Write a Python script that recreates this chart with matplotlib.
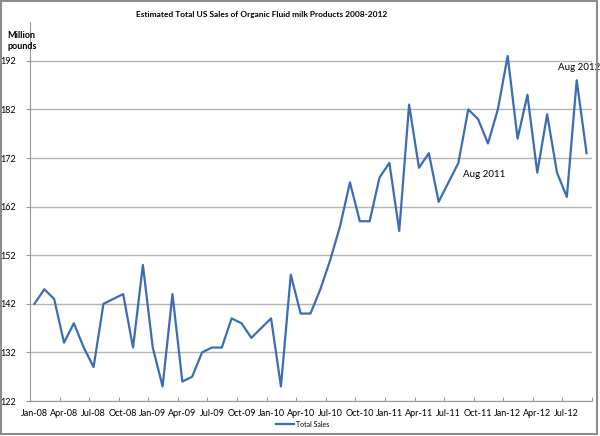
import numpy as np
import matplotlib.pyplot as plt
from matplotlib.patches import Rectangle

plt.rcParams['font.family'] = ['Lato', 'DejaVu Sans']

# monthly sales, Jan-08 .. Sep-12 (million pounds)
sales = [142, 145, 143, 134, 138, 133, 129, 142, 143, 144, 133, 150,
         133, 125, 144, 126, 127, 132, 133, 133, 139, 138, 135, 137,
         139, 125, 148, 140, 140, 145, 151, 158, 167, 159, 159, 168,
         171, 157, 183, 170, 173, 163, 167, 171, 182, 180, 175, 182,
         193, 176, 185, 169, 181, 169, 164, 188, 173]
months = ['Jan', 'Feb', 'Mar', 'Apr', 'May', 'Jun',
          'Jul', 'Aug', 'Sep', 'Oct', 'Nov', 'Dec']
years = ['08', '09', '10', '11', '12']
month_labels = [m + '-' + y for y in years for m in months][:len(sales)]
yticks = [122, 132, 142, 152, 162, 172, 182, 192]

x = np.arange(len(sales))

fig = plt.figure(figsize=(6, 4.36), dpi=100)
ax = fig.add_axes([30/600, 35/436, 562/600, 379/436])

ax.plot(x, sales, color='#3a6db5', linewidth=1.6, label='Total Sales')

ax.set_xlim(-0.45, len(sales) - 0.45)
ax.set_ylim(122, 200)
ax.set_yticks(yticks)
ax.yaxis.grid(True, color='#b4b4b4', linewidth=1.0)
ax.set_axisbelow(True)

ax.set_xticks(np.arange(-0.45, len(sales), 3))
ax.set_xticklabels([])
ax.set_xticks(x[::3], minor=True)
ax.set_xticklabels(month_labels[::3], minor=True)
ax.tick_params(axis='x', which='minor', length=0, pad=6, labelsize=6.5)
ax.tick_params(axis='x', which='major', length=3, direction='in', color='#999999')
ax.tick_params(axis='y', length=3, color='#999999', labelsize=6.5, pad=7)

for s in ['top', 'right']:
    ax.spines[s].set_visible(False)
ax.spines['left'].set_color('#999999')
ax.spines['bottom'].set_color('#999999')

ax.annotate('Aug 2011', (x[43], sales[43]), xytext=(3, -8),
            textcoords='offset points', fontsize=7, va='center', ha='left')
ax.annotate('Aug 2012', (x[55], sales[55]), xytext=(2, 9),
            textcoords='offset points', fontsize=7, va='center', ha='center',
            annotation_clip=False)

title = fig.text(262/600, 1 - 15/436,
                 'Estimated Total US Sales of Organic Fluid milk Products 2008-2012',
                 ha='center', va='center', fontsize=7.5, fontweight='bold')
# shrink the title to the width it has in the original (about 250 px)
r = fig.canvas.get_renderer()
w = title.get_window_extent(renderer=r).width
title.set_fontsize(7.5 * 250 / w)

fig.text(7/600, 1 - 41/436, 'Million\npounds', ha='left', va='center',
         fontsize=6.5, fontweight='bold', linespacing=1.4)

fig.legend(loc='center', bbox_to_anchor=(303/600, 1 - 424/436), frameon=False,
           fontsize=5, handlelength=2.5, handletextpad=0.4)

fig.patches.append(Rectangle((0.002, 0.004), 0.993, 0.993, transform=fig.transFigure,
                             fill=False, edgecolor='#8c8c8c', linewidth=1.5))

fig.savefig('out.png', dpi=100)
